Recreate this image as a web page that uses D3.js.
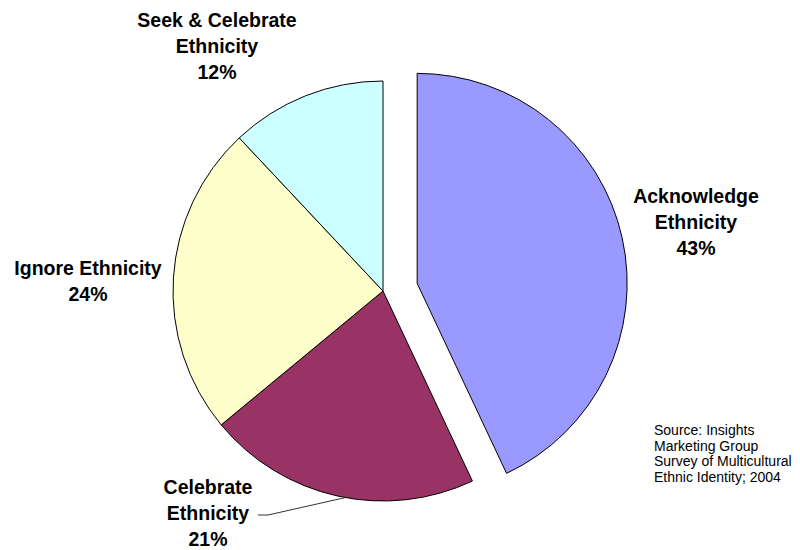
<!DOCTYPE html>
<html>
<head>
<meta charset="utf-8">
<script src="https://cdn.jsdelivr.net/npm/d3@7"></script>
<style>
  body { margin: 0; background: #fff; }
  svg { display: block; font-family: "Liberation Sans", Arial, sans-serif; }
</style>
</head>
<body>
<svg id="chart" width="800" height="550"></svg>
<script>
// Chart data
var categories = ["Acknowledge Ethnicity", "Celebrate Ethnicity", "Ignore Ethnicity", "Seek & Celebrate Ethnicity"];
var shares = [43, 21, 24, 12];
var labelLines = [
    ["Acknowledge", "Ethnicity", "43%"],
    ["Celebrate", "Ethnicity", "21%"],
    ["Ignore Ethnicity", "24%"],
    ["Seek & Celebrate", "Ethnicity", "12%"]
];
var colors = ["#9999FF", "#993366", "#FFFFCC", "#CCFFFF"];
var sourceLines = ["Source: Insights", "Marketing Group", "Survey of Multicultural", "Ethnic Identity; 2004"];

// Layout
var cx = 383, cy = 291, radius = 210, explode = 35;
// label anchor (center x, first baseline y)
var labelAnchors = [[696, 203], [208, 494], [88, 275], [217, 27]];

var svg = d3.select("#chart");

var pie = d3.pie().sort(null).value(function(d) { return d; });
var arc = d3.arc().innerRadius(0).outerRadius(radius);
var slices = pie(shares);

var g = svg.append("g").attr("transform", "translate(" + cx + "," + cy + ")");

g.selectAll("path")
    .data(slices)
    .enter().append("path")
    .attr("d", arc)
    .attr("fill", function(d, i) { return colors[i]; })
    .attr("stroke", "#000")
    .attr("stroke-width", 1)
    .attr("transform", function(d, i) {
        if (i !== 0) return null;
        var p = d3.pointRadial((d.startAngle + d.endAngle) / 2, explode);
        return "translate(" + p[0] + "," + p[1] + ")";
    });

// Leader line for Celebrate Ethnicity
var cel = slices[1];
var edge = d3.pointRadial(cel.startAngle + (cel.endAngle - cel.startAngle) * 0.47, radius);
svg.append("polyline")
    .attr("points", [[258, 515], [268, 515], [cx + edge[0], cy + edge[1]]].map(function(p) { return p.join(","); }).join(" "))
    .attr("fill", "none")
    .attr("stroke", "#333")
    .attr("stroke-width", 1);

// Data labels
labelLines.forEach(function(lines, i) {
    var t = svg.append("text")
        .attr("text-anchor", "middle")
        .attr("font-size", "19.5px")
        .attr("font-weight", "bold")
        .attr("fill", "#000");
    lines.forEach(function(line, j) {
        t.append("tspan")
            .attr("x", labelAnchors[i][0])
            .attr("y", labelAnchors[i][1] + j * 26)
            .text(line);
    });
});

// Source note
var src = svg.append("text")
    .attr("font-size", "14px")
    .attr("fill", "#000");
sourceLines.forEach(function(line, j) {
    src.append("tspan")
        .attr("x", 654)
        .attr("y", 435 + j * 15.7)
        .text(line);
});
</script>
</body>
</html>
